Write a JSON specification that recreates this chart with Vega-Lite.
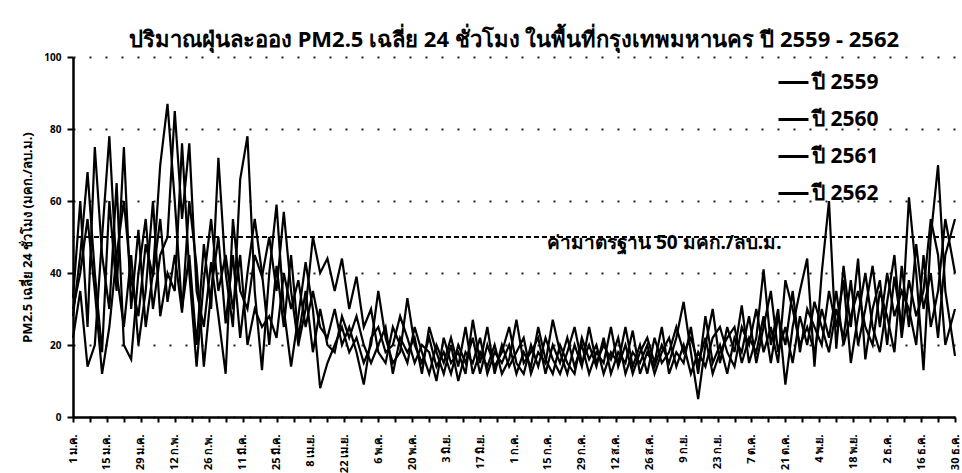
{
  "$schema": "https://vega.github.io/schema/vega-lite/v6.json",
  "autosize": {"type": "none"},
  "width": 882,
  "height": 360,
  "padding": {"left": 73, "top": 57, "right": 7, "bottom": 56},
  "background": "white",
  "config": {
    "font": "Noto Sans",
    "view": {"stroke": null},
    "axis": {"domainColor": "black", "domainWidth": 2.5, "tickColor": "black", "tickWidth": 2, "labelColor": "black", "titleColor": "black", "labelFontWeight": "bold", "titleFontWeight": "bold"}
  },
  "title": {"text": "ปริมาณฝุ่นละออง PM2.5 เฉลี่ย 24 ชั่วโมง ในพื้นที่กรุงเทพมหานคร ปี 2559 - 2562", "fontSize": 22, "fontWeight": "bold", "color": "black", "anchor": "middle", "offset": 0},
  "datasets": {
    "pm": [
      {"d":1,"2559":28,"2560":33,"2561":22,"2562":30},
      {"d":4,"2559":45,"2560":60,"2561":35,"2562":40},
      {"d":7,"2559":68,"2560":25,"2561":14,"2562":55},
      {"d":10,"2559":40,"2560":75,"2561":20,"2562":35},
      {"d":13,"2559":18,"2560":45,"2561":50,"2562":12},
      {"d":16,"2559":60,"2560":30,"2561":78,"2562":25},
      {"d":19,"2559":35,"2560":65,"2561":40,"2562":45},
      {"d":22,"2559":75,"2560":20,"2561":25,"2562":60},
      {"d":25,"2559":30,"2560":16,"2561":45,"2562":38},
      {"d":28,"2559":52,"2560":40,"2561":20,"2562":28},
      {"d":31,"2559":25,"2560":55,"2561":35,"2562":48},
      {"d":34,"2559":40,"2560":30,"2561":60,"2562":39},
      {"d":37,"2559":70,"2560":45,"2561":28,"2562":55},
      {"d":40,"2559":87,"2560":50,"2561":40,"2562":32},
      {"d":43,"2559":60,"2560":85,"2561":35,"2562":45},
      {"d":46,"2559":30,"2560":55,"2561":76,"2562":29},
      {"d":49,"2559":45,"2560":76,"2561":40,"2562":60},
      {"d":52,"2559":20,"2560":35,"2561":14,"2562":42},
      {"d":55,"2559":48,"2560":25,"2561":38,"2562":14},
      {"d":58,"2559":30,"2560":43,"2561":55,"2562":35},
      {"d":61,"2559":72,"2560":28,"2561":35,"2562":50},
      {"d":64,"2559":40,"2560":12,"2561":45,"2562":26},
      {"d":67,"2559":25,"2560":55,"2561":30,"2562":45},
      {"d":70,"2559":66,"2560":35,"2561":45,"2562":22},
      {"d":73,"2559":78,"2560":30,"2561":20,"2562":40},
      {"d":76,"2559":35,"2560":45,"2561":30,"2562":55},
      {"d":79,"2559":13,"2560":39,"2561":25,"2562":40},
      {"d":82,"2559":40,"2560":50,"2561":28,"2562":20},
      {"d":85,"2559":59,"2560":35,"2561":22,"2562":42},
      {"d":88,"2559":30,"2560":57,"2561":40,"2562":25},
      {"d":91,"2559":14,"2560":35,"2561":30,"2562":45},
      {"d":94,"2559":28,"2560":20,"2561":38,"2562":22},
      {"d":97,"2559":43,"2560":30,"2561":25,"2562":35},
      {"d":100,"2559":30,"2560":50,"2561":35,"2562":18},
      {"d":103,"2559":8,"2560":40,"2561":25,"2562":30},
      {"d":106,"2559":15,"2560":44,"2561":22,"2562":20},
      {"d":109,"2559":20,"2560":35,"2561":30,"2562":18},
      {"d":112,"2559":25,"2560":44,"2561":20,"2562":28},
      {"d":115,"2559":18,"2560":30,"2561":25,"2562":22},
      {"d":118,"2559":22,"2560":39,"2561":18,"2562":28},
      {"d":121,"2559":15,"2560":25,"2561":9,"2562":20},
      {"d":124,"2559":20,"2560":30,"2561":22,"2562":15},
      {"d":127,"2559":35,"2560":18,"2561":25,"2562":20},
      {"d":130,"2559":22,"2560":15,"2561":18,"2562":25},
      {"d":133,"2559":15,"2560":25,"2561":20,"2562":12},
      {"d":136,"2559":18,"2560":20,"2561":28,"2562":22},
      {"d":139,"2559":33,"2560":15,"2561":22,"2562":18},
      {"d":142,"2559":20,"2560":25,"2561":15,"2562":22},
      {"d":145,"2559":15,"2560":18,"2561":20,"2562":12},
      {"d":148,"2559":22,"2560":12,"2561":18,"2562":25},
      {"d":151,"2559":14,"2560":20,"2561":10,"2562":18},
      {"d":154,"2559":18,"2560":15,"2561":22,"2562":12},
      {"d":157,"2559":12,"2560":22,"2561":15,"2562":20},
      {"d":160,"2559":20,"2560":14,"2561":18,"2562":10},
      {"d":163,"2559":15,"2560":25,"2561":12,"2562":18},
      {"d":166,"2559":22,"2560":12,"2561":27,"2562":15},
      {"d":169,"2559":12,"2560":18,"2561":15,"2562":22},
      {"d":172,"2559":20,"2560":14,"2561":25,"2562":12},
      {"d":175,"2559":14,"2560":20,"2561":12,"2562":18},
      {"d":178,"2559":18,"2560":12,"2561":20,"2562":15},
      {"d":181,"2559":25,"2560":16,"2561":14,"2562":20},
      {"d":184,"2559":15,"2560":27,"2561":18,"2562":12},
      {"d":187,"2559":12,"2560":15,"2561":22,"2562":18},
      {"d":190,"2559":20,"2560":18,"2561":12,"2562":14},
      {"d":193,"2559":14,"2560":22,"2561":18,"2562":25},
      {"d":196,"2559":22,"2560":12,"2561":15,"2562":16},
      {"d":199,"2559":16,"2560":20,"2561":27,"2562":12},
      {"d":202,"2559":12,"2560":15,"2561":18,"2562":20},
      {"d":205,"2559":18,"2560":22,"2561":12,"2562":15},
      {"d":208,"2559":25,"2560":14,"2561":20,"2562":12},
      {"d":211,"2559":15,"2560":20,"2561":14,"2562":22},
      {"d":214,"2559":20,"2560":12,"2561":25,"2562":16},
      {"d":217,"2559":14,"2560":18,"2561":15,"2562":20},
      {"d":220,"2559":22,"2560":15,"2561":20,"2562":12},
      {"d":223,"2559":12,"2560":25,"2561":16,"2562":18},
      {"d":226,"2559":18,"2560":14,"2561":22,"2562":15},
      {"d":229,"2559":15,"2560":20,"2561":12,"2562":25},
      {"d":232,"2559":24,"2560":12,"2561":18,"2562":14},
      {"d":235,"2559":12,"2560":18,"2561":15,"2562":20},
      {"d":238,"2559":18,"2560":22,"2561":20,"2562":12},
      {"d":241,"2559":14,"2560":15,"2561":12,"2562":22},
      {"d":244,"2559":20,"2560":25,"2561":18,"2562":15},
      {"d":247,"2559":15,"2560":12,"2561":22,"2562":18},
      {"d":250,"2559":22,"2560":18,"2561":14,"2562":25},
      {"d":253,"2559":32,"2560":15,"2561":20,"2562":18},
      {"d":256,"2559":18,"2560":25,"2561":12,"2562":22},
      {"d":259,"2559":5,"2560":12,"2561":18,"2562":15},
      {"d":262,"2559":20,"2560":28,"2561":14,"2562":22},
      {"d":265,"2559":30,"2560":15,"2561":22,"2562":12},
      {"d":268,"2559":15,"2560":20,"2561":25,"2562":18},
      {"d":271,"2559":25,"2560":12,"2561":18,"2562":22},
      {"d":274,"2559":18,"2560":22,"2561":14,"2562":25},
      {"d":277,"2559":31,"2560":18,"2561":25,"2562":15},
      {"d":280,"2559":15,"2560":28,"2561":20,"2562":22},
      {"d":283,"2559":22,"2560":15,"2561":30,"2562":18},
      {"d":286,"2559":41,"2560":25,"2561":18,"2562":28},
      {"d":289,"2559":20,"2560":35,"2561":25,"2562":15},
      {"d":292,"2559":30,"2560":18,"2561":15,"2562":28},
      {"d":295,"2559":9,"2560":25,"2561":38,"2562":20},
      {"d":298,"2559":25,"2560":15,"2561":30,"2562":35},
      {"d":301,"2559":35,"2560":28,"2561":20,"2562":18},
      {"d":304,"2559":44,"2560":20,"2561":25,"2562":30},
      {"d":307,"2559":14,"2560":32,"2561":18,"2562":25},
      {"d":310,"2559":40,"2560":25,"2561":30,"2562":20},
      {"d":313,"2559":60,"2560":18,"2561":22,"2562":35},
      {"d":316,"2559":19,"2560":30,"2561":35,"2562":25},
      {"d":319,"2559":42,"2560":22,"2561":20,"2562":38},
      {"d":322,"2559":25,"2560":38,"2561":28,"2562":15},
      {"d":325,"2559":44,"2560":20,"2561":35,"2562":28},
      {"d":328,"2559":16,"2560":30,"2561":25,"2562":40},
      {"d":331,"2559":30,"2560":42,"2561":20,"2562":25},
      {"d":334,"2559":38,"2560":25,"2561":35,"2562":18},
      {"d":337,"2559":20,"2560":40,"2561":28,"2562":32},
      {"d":340,"2559":39,"2560":28,"2561":18,"2562":45},
      {"d":343,"2559":25,"2560":35,"2561":42,"2562":22},
      {"d":346,"2559":61,"2560":30,"2561":25,"2562":38},
      {"d":349,"2559":40,"2560":20,"2561":48,"2562":28},
      {"d":352,"2559":13,"2560":45,"2561":30,"2562":35},
      {"d":355,"2559":50,"2560":25,"2561":40,"2562":55},
      {"d":358,"2559":70,"2560":35,"2561":22,"2562":45},
      {"d":361,"2559":35,"2560":55,"2561":45,"2562":20},
      {"d":365,"2559":17,"2560":40,"2561":55,"2562":30}
    ]
  },
  "layer": [
    {
      "data": {"name": "pm"},
      "transform": [{"fold": ["2559", "2560", "2561", "2562"], "as": ["year", "v"]}],
      "mark": {"type": "line", "strokeWidth": 2.2, "interpolate": "linear"},
      "encoding": {
        "x": {
          "field": "d", "type": "quantitative",
          "scale": {"domain": [1, 365], "nice": false, "zero": false},
          "axis": {
            "title": null, "grid": false, "tickCount": 200,
            "values": [1,8,15,22,29,36,43,50,57,64,71,78,85,92,99,106,113,120,127,134,141,148,155,162,169,176,183,190,197,204,211,218,225,232,239,246,253,260,267,274,281,288,295,302,309,316,323,330,337,344,351,358,365],
            "labelExpr": "(datum.value - 1) % 14 == 0 ? ['1 ม.ค.','15 ม.ค.','29 ม.ค.','12 ก.พ.','26 ก.พ.','11 มี.ค.','25 มี.ค.','8 เม.ย.','22 เม.ย.','6 พ.ค.','20 พ.ค.','3 มิ.ย.','17 มิ.ย.','1 ก.ค.','15 ก.ค.','29 ก.ค.','12 ส.ค.','26 ส.ค.','9 ก.ย.','23 ก.ย.','7 ต.ค.','21 ต.ค.','4 พ.ย.','18 พ.ย.','2 ธ.ค.','16 ธ.ค.','30 ธ.ค.'][round((datum.value - 1) / 14)] : ''",
            "labelAngle": -90, "labelAlign": "right", "labelBaseline": "middle",
            "labelFontSize": 11, "labelPadding": 12, "labelOverlap": false, "labelBound": false, "labelSeparation": 0,
            "tickSize": 5
          }
        },
        "y": {
          "field": "v", "type": "quantitative",
          "scale": {"domain": [0, 100], "nice": false},
          "axis": {
            "title": "PM2.5 เฉลี่ย 24 ชั่วโมง (มคก./ลบ.ม.)", "titleFontSize": 13, "titlePadding": 9,
            "values": [0,10,20,30,40,50,60,70,80,90,100],
            "labelFontSize": 10, "labelPadding": 6, "tickSize": 6,
            "grid": true, "gridColor": "#222", "gridDash": [2, 14], "gridWidth": 2
          }
        },
        "color": {
          "field": "year", "type": "nominal",
          "scale": {"domain": ["2559", "2560", "2561", "2562"], "range": ["black", "black", "black", "black"]},
          "legend": {
            "title": null, "orient": "none", "legendX": 704, "legendY": 9,
            "labelExpr": "'ปี ' + datum.label",
            "symbolType": "stroke", "symbolSize": 900, "symbolStrokeWidth": 3, "symbolStrokeColor": "black",
            "labelFontSize": 21, "labelFontWeight": "bold", "labelColor": "black", "labelOffset": 2,
            "rowPadding": 10
          }
        }
      }
    },
    {
      "data": {"values": [{"y": 50}]},
      "mark": {"type": "rule", "color": "black", "strokeWidth": 2, "strokeDash": [5, 3]},
      "encoding": {"y": {"field": "y", "type": "quantitative"}}
    },
    {
      "data": {"values": [{"d": 245, "y": 50, "t": "ค่ามาตรฐาน 50 มคก./ลบ.ม."}]},
      "mark": {"type": "text", "fontSize": 19, "fontWeight": "bold", "color": "black", "baseline": "middle", "align": "center", "dy": 6},
      "encoding": {
        "x": {"field": "d", "type": "quantitative"},
        "y": {"field": "y", "type": "quantitative"},
        "text": {"field": "t"}
      }
    }
  ]
}
